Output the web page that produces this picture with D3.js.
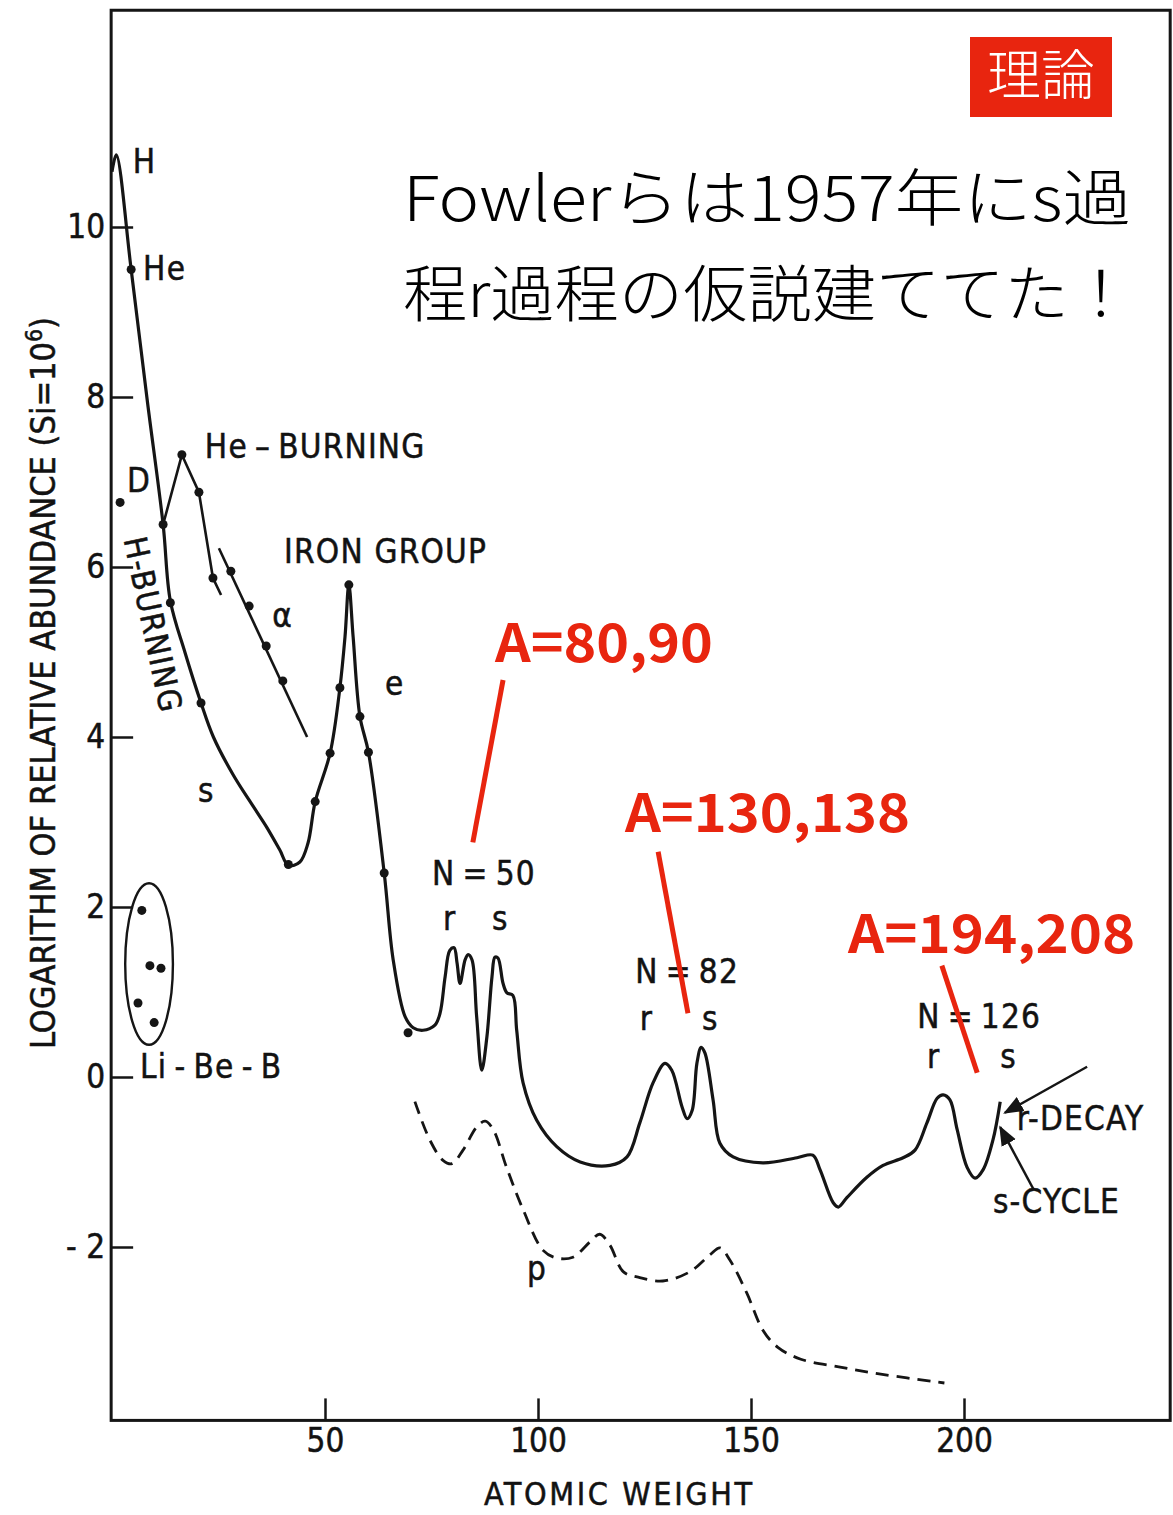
<!DOCTYPE html>
<html>
<head>
<meta charset="utf-8">
<script src="https://cdn.jsdelivr.net/npm/d3@7"></script>
<style>
  html, body { margin: 0; padding: 0; background: #fff; }
  svg { display: block; }
  .scan { font-family: 'Liberation Sans Narrow', 'DejaVu Sans Condensed', 'Liberation Sans', sans-serif; fill: #121212; stroke: #121212; stroke-width: 0.5; }
  .jp { font-family: 'Noto Sans CJK JP', sans-serif; }
</style>
</head>
<body>
<svg id="chart" width="1173" height="1515"></svg>
<script>
// abundance curve [atomic weight, log abundance]
const mainCurve = [
  [0, 10.65], [1, 10.85], [4.5, 9.5], [8.3, 7.95], [12, 6.5], [13.7, 5.6], [17.1, 5.0],
  [20.9, 4.4], [23.8, 4.0], [28.5, 3.55], [33.2, 3.18], [36.3, 2.94], [39.4, 2.67],
  [41.4, 2.49], [44.1, 2.53], [46, 2.75], [47.7, 3.24], [51.2, 3.81], [53.5, 4.58],
  [54.7, 5.18], [55.6, 5.79], [56.6, 5.18], [58.2, 4.24], [60.2, 3.82], [63.9, 2.4],
  [66, 1.38], [68.8, 0.71], [70.7, 0.58], [73, 0.55], [75.8, 0.61], [77, 0.75],
  [78.2, 1.18], [79.3, 1.49], [80.3, 1.52], [81, 1.34], [81.7, 1.1], [82.9, 1.38],
  [83.6, 1.44], [84.5, 1.38], [85.6, 0.71], [86.8, 0.08], [88, 0.47], [89.2, 1.18],
  [89.9, 1.41], [90.6, 1.4], [91.8, 1.1], [92.7, 0.99], [94.1, 0.96], [95, 0.55],
  [96.5, -0.07], [99.7, -0.51], [104.4, -0.82], [109.9, -1.0], [116.9, -1.04],
  [120.9, -0.94], [123.9, -0.54], [127, -0.07], [129.8, 0.16], [131.4, 0.08],
  [133.8, -0.35], [135, -0.49], [136.2, -0.39], [137.3, 0.16], [138.3, 0.35],
  [139.2, 0.28], [141.1, -0.27], [142.7, -0.78], [145.8, -0.94], [152.8, -1.01],
  [160.8, -0.95], [164.5, -0.92], [166.2, -1.09], [169.3, -1.48], [170.5, -1.53],
  [172.5, -1.42], [177.2, -1.18], [181, -1.04], [185.7, -0.95], [188.5, -0.86],
  [191.3, -0.54], [193.7, -0.25], [195.1, -0.21], [196.7, -0.27], [198.4, -0.62],
  [200.7, -1.06], [202.6, -1.19], [204.5, -1.09], [206.8, -0.74], [208.5, -0.29]
]
// p-process (dashed)
const pCurve = [
  [71.1, -0.29], [74.6, -0.74], [77.7, -0.98], [79.8, -1.02], [82.4, -0.86], [85.6, -0.59],
  [87.6, -0.52], [89.5, -0.62], [92.6, -1.06], [96.5, -1.56], [101.2, -2.04], [104.4, -2.13],
  [108.2, -2.12], [112.2, -1.94], [114.5, -1.85], [116.9, -1.98], [120, -2.29], [123.9, -2.36],
  [129.3, -2.4], [135.7, -2.29], [140.4, -2.09], [142.7, -2.01], [145, -2.15], [149, -2.54],
  [152.8, -2.98], [156.3, -3.18], [161.7, -3.32], [170.6, -3.41], [179.7, -3.49], [195.4, -3.6]
]
const heBurning = [[12, 6.5], [16.4, 7.32], [20.4, 6.88], [23.7, 5.87], [25.6, 5.67]]
const alphaLine = [[25.1, 6.22], [45.8, 4.0]]
const curveDots = [
  [4.5, 9.5], [12, 6.5], [13.7, 5.58], [20.9, 4.4], [41.4, 2.5], [47.7, 3.24], [51.2, 3.81],
  [53.5, 4.58], [55.6, 5.79], [58.2, 4.24], [60.2, 3.82], [63.9, 2.4], [69.5, 0.52],
  [16.4, 7.32], [20.4, 6.88], [23.7, 5.87],
  [27.9, 5.95], [32.2, 5.54], [36.2, 5.07], [40.1, 4.66],
  [1.9, 6.76]
]
const liBeB = [[6.1, 0.87], [7.0, 1.96], [8.9, 1.31], [9.9, 0.64], [11.5, 1.28]]
const xTicks = [50, 100, 150, 200]
const yTicks = [-2, 0, 2, 4, 6, 8, 10]

const labels = [
  { t: 'H', a: 4.9, v: 10.64 },
  { t: 'He', a: 7.3, v: 9.38 },
  { t: 'D', a: 3.5, v: 6.88 },
  { t: 'He\u2009\u2013\u2009BURNING', a: 21.8, v: 7.28 },
  { t: 'IRON GROUP', a: 40.4, v: 6.05 },
  { t: '\u03b1', a: 37.6, v: 5.29 },
  { t: 'e', a: 64.1, v: 4.49 },
  { t: 's', a: 20.2, v: 3.24 },
  { t: 'Li\u2009-\u2009Be\u2009-\u2009B', a: 6.6, v: -0.01 },
  { t: 'N\u2009=\u200950', a: 75.1, v: 2.26 },
  { t: 'r', a: 77.7, v: 1.73 },
  { t: 's', a: 89.2, v: 1.73 },
  { t: 'N\u2009=\u200982', a: 122.8, v: 1.11 },
  { t: 'r', a: 123.9, v: 0.55 },
  { t: 's', a: 138.5, v: 0.55 },
  { t: 'N\u2009=\u2009126', a: 189, v: 0.58 },
  { t: 'r', a: 191.3, v: 0.11 },
  { t: 's', a: 208.5, v: 0.11 },
  { t: 'r-DECAY', a: 212.4, v: -0.62 },
  { t: 's-CYCLE', a: 206.8, v: -1.6 },
  { t: 'p', a: 97.4, v: -2.39 }
]
const arrows = [
  { from: [228.9, 0.12], to: [209.6, -0.42] },
  { from: [216.2, -1.31], to: [208.5, -0.59] }
]
const redNotes = [
  { t: 'A=80,90', a: 89.9, v: 4.88, from: [91.8, 4.67], to: [84.7, 2.76] },
  { t: 'A=130,138', a: 120.4, v: 2.88, from: [128.2, 2.65], to: [135.2, 0.75] },
  { t: 'A=194,208', a: 172.8, v: 1.46, from: [194.8, 1.31], to: [203.1, 0.05] }
]
const red = '#e8250f'

const svg = d3.select('#chart')
const x = d3.scaleLinear().domain([0, 200]).range([112, 964])
const y = d3.scaleLinear().domain([-2, 10]).range([1247, 227])
// frame extent in data units
const xMin = -0.2, xMax = 248.4, yMin = -4.04, yMax = 12.55

svg.append('defs').append('marker')
  .attr('id', 'head').attr('viewBox', '0 0 10 10').attr('refX', 9).attr('refY', 5)
  .attr('markerWidth', 20).attr('markerHeight', 20).attr('markerUnits', 'userSpaceOnUse')
  .attr('orient', 'auto')
  .append('path').attr('d', 'M0,1 L10,5 L0,9 Z').attr('fill', '#151515')

// frame
svg.append('rect')
  .attr('x', x(xMin)).attr('y', y(yMax))
  .attr('width', x(xMax) - x(xMin)).attr('height', y(yMin) - y(yMax))
  .attr('fill', 'none').attr('stroke', '#151515').attr('stroke-width', 3)

// axes
const yAxis = svg.append('g').attr('transform', `translate(${x(xMin)},0)`)
  .call(d3.axisLeft(y).tickValues(yTicks).tickSize(-22).tickSizeOuter(0).tickPadding(6)
    .tickFormat(d => d < 0 ? '- ' + Math.abs(d) : d))
yAxis.select('.domain').remove()
yAxis.selectAll('line').attr('stroke', '#151515').attr('stroke-width', 2.5)
yAxis.selectAll('text').attr('class', 'scan').attr('font-size', 33)

const xAxis = svg.append('g').attr('transform', `translate(0,${y(yMin)})`)
  .call(d3.axisBottom(x).tickValues(xTicks).tickSize(-22).tickSizeOuter(0).tickPadding(8))
xAxis.select('.domain').remove()
xAxis.selectAll('line').attr('stroke', '#151515').attr('stroke-width', 2.5)
xAxis.selectAll('text').attr('class', 'scan').attr('font-size', 33)

svg.append('text').attr('class', 'scan')
  .attr('x', 484).attr('y', 1505)
  .attr('font-size', 32).attr('textLength', 268).attr('lengthAdjust', 'spacing')
  .text('ATOMIC  WEIGHT')

const yLabel = svg.append('text').attr('class', 'scan')
  .attr('transform', 'translate(55,683) rotate(-90)')
  .attr('text-anchor', 'middle').attr('font-size', 34)
yLabel.append('tspan').text('LOGARITHM OF RELATIVE ABUNDANCE (Si=10')
yLabel.append('tspan').attr('dy', -13).attr('font-size', 23).text('6')
yLabel.append('tspan').attr('dy', 13).text(')')

// curves
const smooth = d3.line().x(d => x(d[0])).y(d => y(d[1])).curve(d3.curveCatmullRom.alpha(0.5))
const straight = d3.line().x(d => x(d[0])).y(d => y(d[1]))

svg.append('path').datum(mainCurve).attr('d', smooth)
  .attr('fill', 'none').attr('stroke', '#151515').attr('stroke-width', 3.2)
svg.append('path').datum(pCurve).attr('d', smooth)
  .attr('fill', 'none').attr('stroke', '#151515').attr('stroke-width', 2.8)
  .attr('stroke-dasharray', '13 8')
svg.append('path').datum(heBurning).attr('d', straight)
  .attr('fill', 'none').attr('stroke', '#151515').attr('stroke-width', 2.6)
svg.append('path').datum(alphaLine).attr('d', straight)
  .attr('fill', 'none').attr('stroke', '#151515').attr('stroke-width', 2.6)

svg.append('g').selectAll('circle').data(curveDots.concat(liBeB)).join('circle')
  .attr('cx', d => x(d[0])).attr('cy', d => y(d[1])).attr('r', 4.5).attr('fill', '#151515')

// Li-Be-B ellipse
svg.append('ellipse')
  .attr('cx', x(8.7)).attr('cy', y(1.33))
  .attr('rx', x(8.7 + 5.6) - x(8.7)).attr('ry', y(1.33 - 0.95) - y(1.33))
  .attr('fill', 'none').attr('stroke', '#151515').attr('stroke-width', 2.4)

// arrows
svg.append('g').selectAll('line').data(arrows).join('line')
  .attr('x1', d => x(d.from[0])).attr('y1', d => y(d.from[1]))
  .attr('x2', d => x(d.to[0])).attr('y2', d => y(d.to[1]))
  .attr('stroke', '#151515').attr('stroke-width', 2.4).attr('marker-end', 'url(#head)')

// labels from the original figure
svg.append('g').selectAll('text').data(labels).join('text')
  .attr('class', 'scan').attr('font-size', 33).attr('letter-spacing', 1.2)
  .attr('x', d => x(d.a)).attr('y', d => y(d.v)).text(d => d.t)

svg.append('text').attr('class', 'scan').attr('font-size', 32).attr('letter-spacing', 1.5)
  .attr('text-anchor', 'middle').attr('dominant-baseline', 'central')
  .attr('transform', `translate(${x(9.6)},${y(5.32)}) rotate(78)`)
  .text('H-BURNING')

// red notes
const noteWidth = { 'A=80,90': 218, 'A=130,138': 285, 'A=194,208': 287 }
const notes = svg.append('g')
notes.selectAll('line').data(redNotes).join('line')
  .attr('x1', d => x(d.from[0])).attr('y1', d => y(d.from[1]))
  .attr('x2', d => x(d.to[0])).attr('y2', d => y(d.to[1]))
  .attr('stroke', red).attr('stroke-width', 5)
notes.selectAll('text').data(redNotes).join('text')
  .attr('class', 'jp').attr('font-size', 53).attr('font-weight', 700).attr('fill', red)
  .attr('x', d => x(d.a)).attr('y', d => y(d.v))
  .attr('textLength', d => noteWidth[d.t]).attr('lengthAdjust', 'spacingAndGlyphs')
  .text(d => d.t)

// title block
svg.append('rect').attr('x', 970).attr('y', 37).attr('width', 142).attr('height', 80).attr('fill', red)
svg.append('text').attr('class', 'jp').attr('x', 1041).attr('y', 95)
  .attr('text-anchor', 'middle').attr('font-size', 54).attr('font-weight', 300)
  .attr('fill', '#fff').text('理論')
svg.append('text').attr('class', 'jp').attr('x', 403).attr('y', 221)
  .attr('font-size', 62).attr('font-weight', 300).attr('fill', '#000')
  .attr('textLength', 728).attr('lengthAdjust', 'spacingAndGlyphs')
  .text('Fowlerらは1957年にs過')
svg.append('text').attr('class', 'jp').attr('x', 403).attr('y', 317)
  .attr('font-size', 62).attr('font-weight', 300).attr('fill', '#000')
  .attr('textLength', 730).attr('lengthAdjust', 'spacingAndGlyphs')
  .text('程r過程の仮説建ててた！')
</script>
</body>
</html>
